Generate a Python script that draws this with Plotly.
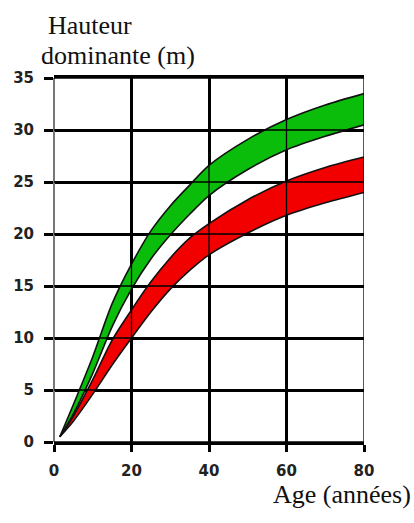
import plotly.graph_objects as go

# Age (years) sampled along the curves
age = [1.5, 5, 10, 15, 20, 25, 30, 35, 40, 50, 60, 70, 80]

# Green band (upper / lower edge), dominant height in m
green_upper = [0.5, 3.6, 8.2, 13.3, 17.1, 20.3, 22.7, 24.7, 26.6, 29.1, 31.0, 32.4, 33.5]
green_lower = [0.5, 2.7, 6.6, 11.1, 14.7, 17.6, 19.9, 21.9, 23.7, 26.2, 28.1, 29.4, 30.5]

# Red band (upper / lower edge)
red_upper = [0.5, 2.5, 6.0, 9.8, 12.7, 15.4, 17.7, 19.6, 21.0, 23.3, 25.1, 26.4, 27.4]
red_lower = [0.5, 2.0, 4.6, 7.4, 10.0, 12.5, 14.7, 16.5, 18.0, 20.1, 21.8, 23.0, 24.0]

x_ticks = [0, 20, 40, 60, 80]
y_ticks = [0, 5, 10, 15, 20, 25, 30, 35]

y_title_1 = "Hauteur"
y_title_2 = "dominante (m)"
x_title = "Age (années)"

fig = go.Figure()

bands = [
    (green_lower, green_upper, "#0bbd0b"),
    (red_lower, red_upper, "#f20000"),
]
for lower, upper, color in bands:
    fig.add_trace(go.Scatter(
        x=age, y=lower, mode="lines",
        line=dict(color="#111111", width=1.6, shape="spline", smoothing=0.8),
        showlegend=False, hoverinfo="skip"))
    fig.add_trace(go.Scatter(
        x=age, y=upper, mode="lines", fill="tonexty", fillcolor=color,
        line=dict(color="#111111", width=1.6, shape="spline", smoothing=0.8),
        showlegend=False, hoverinfo="skip"))

# thin grid lines drawn over the bands (the grid shows through in the original)
shapes = []
for v in x_ticks[1:]:
    shapes.append(dict(type="line", xref="x", yref="y", x0=v, x1=v,
                       y0=y_ticks[0], y1=y_ticks[-1], layer="above",
                       line=dict(color="#000000", width=1.3)))
for v in y_ticks:
    shapes.append(dict(type="line", xref="x", yref="y", x0=x_ticks[0], x1=x_ticks[-1],
                       y0=v, y1=v, layer="above",
                       line=dict(color="#000000", width=1.6)))

tick_font = dict(family="DejaVu Sans", size=15, color="#222222", weight="bold")
title_font = dict(family="Liberation Serif", size=26, color="#111111")

fig.update_layout(
    width=414, height=523,
    margin=dict(l=54, r=50, t=78, b=81),
    paper_bgcolor="white", plot_bgcolor="white",
    shapes=shapes,
    xaxis=dict(
        range=[x_ticks[0], x_ticks[-1]], tickvals=x_ticks, automargin=False,
        showgrid=True, gridcolor="#000000", gridwidth=2.6,
        ticks="outside", ticklen=7, tickwidth=2.6, tickcolor="#000000",
        showline=True, mirror=True, linecolor="#000000", linewidth=2.6,
        zeroline=True, zerolinecolor="#777777", zerolinewidth=1.6,
        tickfont=tick_font, ticklabelstandoff=6,
    ),
    yaxis=dict(
        range=[y_ticks[0], y_ticks[-1]], tickvals=y_ticks, automargin=False,
        showgrid=True, gridcolor="#000000", gridwidth=2.6,
        ticks="outside", ticklen=9, tickwidth=2.6, tickcolor="#000000",
        showline=False, zeroline=False,
        tickfont=tick_font, ticklabelstandoff=7,
    ),
    annotations=[
        dict(text=y_title_1, xref="paper", yref="paper", x=-0.026, y=1.19,
             xanchor="left", yanchor="top", align="left", showarrow=False,
             font=title_font),
        dict(text=y_title_2, xref="paper", yref="paper", x=-0.048, y=1.107,
             xanchor="left", yanchor="top", align="left", showarrow=False,
             font=title_font),
        dict(text=x_title, xref="paper", yref="paper", x=1.158, y=-0.099,
             xanchor="right", yanchor="top", align="right", showarrow=False,
             font=title_font),
    ],
)

fig.write_html(
    "out.html",
    config={"displayModeBar": False},
    post_script="document.body.style.margin='0';document.body.style.overflow='hidden';",
)
